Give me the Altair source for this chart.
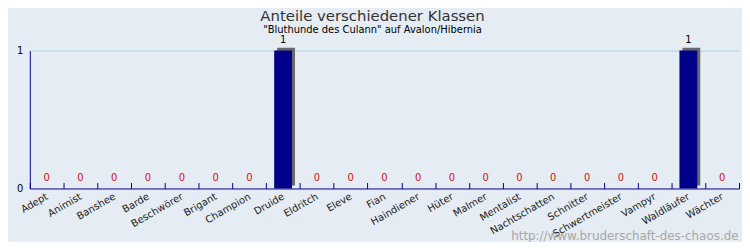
import altair as alt
import pandas as pd

klassen = ["Adept", "Animist", "Banshee", "Barde", "Beschwörer", "Brigant", "Champion",
           "Druide", "Eldritch", "Eleve", "Fian", "Haindiener", "Hüter", "Malmer",
           "Mentalist", "Nachtschatten", "Schnitter", "Schwertmeister", "Vampyr",
           "Waldläufer", "Wächter"]
anteile = [0, 0, 0, 0, 0, 0, 0, 1, 0, 0, 0, 0, 0, 0, 0, 0, 0, 0, 0, 1, 0]

titel = "Anteile verschiedener Klassen"
untertitel = '"Bluthunde des Culann" auf Avalon/Hibernia'
quelle = "http://www.bruderschaft-des-chaos.de"

df = pd.DataFrame({"Klasse": klassen, "Anteil": anteile})

BG = "#E5ECF3"
FONT = "DejaVu Sans"

x = alt.X("Klasse:N", sort=klassen,
          scale=alt.Scale(paddingInner=0, paddingOuter=0),
          axis=alt.Axis(title=quelle, titleColor="#A8A8A8", titleFontSize=12,
                        titleFontWeight="normal", titleFont=FONT,
                        titleAnchor="end", titleAlign="right", titleBaseline="alphabetic",
                        titleX=714, titleY=57,
                        labelAngle=-30, labelAlign="right", labelBaseline="middle",
                        labelFontSize=10, labelColor="#222222", labelFont=FONT,
                        labelPadding=7, labelOffset=0,
                        tickBand="extent", tickSize=6, tickColor="#00008B",
                        offset=-6, domain=False))
y = alt.Y("Anteil:Q", scale=alt.Scale(domain=[0, 1], nice=False),
          axis=alt.Axis(title=None, values=[0, 1], format="d", ticks=False,
                        domainColor="#00008B",
                        labelColor="#000000", labelFontSize=10, labelFont=FONT,
                        labelPadding=7,
                        gridColor=alt.condition("datum.value === 0",
                                                alt.value("#00008B"), alt.value("#A8D8E8"))))

base = alt.Chart(df)

shadow = base.transform_filter("datum.Anteil > 0").mark_bar(
    color="#6A6A6A", size=18, xOffset=3, yOffset=-3).encode(x=x, y=y)
bars = base.transform_filter("datum.Anteil > 0").mark_bar(
    color="#000088", size=18).encode(x=x, y=y)
labels = base.mark_text(font=FONT, fontSize=10, dy=-11, baseline="middle").encode(
    x=x,
    y=alt.Y("Anteil:Q"),
    text="Anteil:Q",
    color=alt.condition("datum.Anteil === 0", alt.value("#CC1111"), alt.value("#000000")),
)
labels_top = labels.transform_filter("datum.Anteil > 0")
labels_zero = labels.transform_filter("datum.Anteil === 0")

chart = alt.layer(shadow, bars, labels_zero, labels_top).properties(
    width=715, height=139,
    autosize=alt.AutoSizeParams(type="none"),
    padding={"left": 22, "top": 42, "right": 3, "bottom": 53},
    title=alt.TitleParams(text=titel, subtitle=untertitel, anchor="middle",
                          fontSize=15, font=FONT, fontWeight="normal", color="#333333",
                          subtitleFontSize=10, subtitleFont=FONT,
                          subtitleColor="#000000", subtitlePadding=1,
                          offset=0, dx=-12),
).configure(background=BG).configure_view(stroke=None)

chart.save("out.html", embed_options={"renderer": "svg", "actions": False})
